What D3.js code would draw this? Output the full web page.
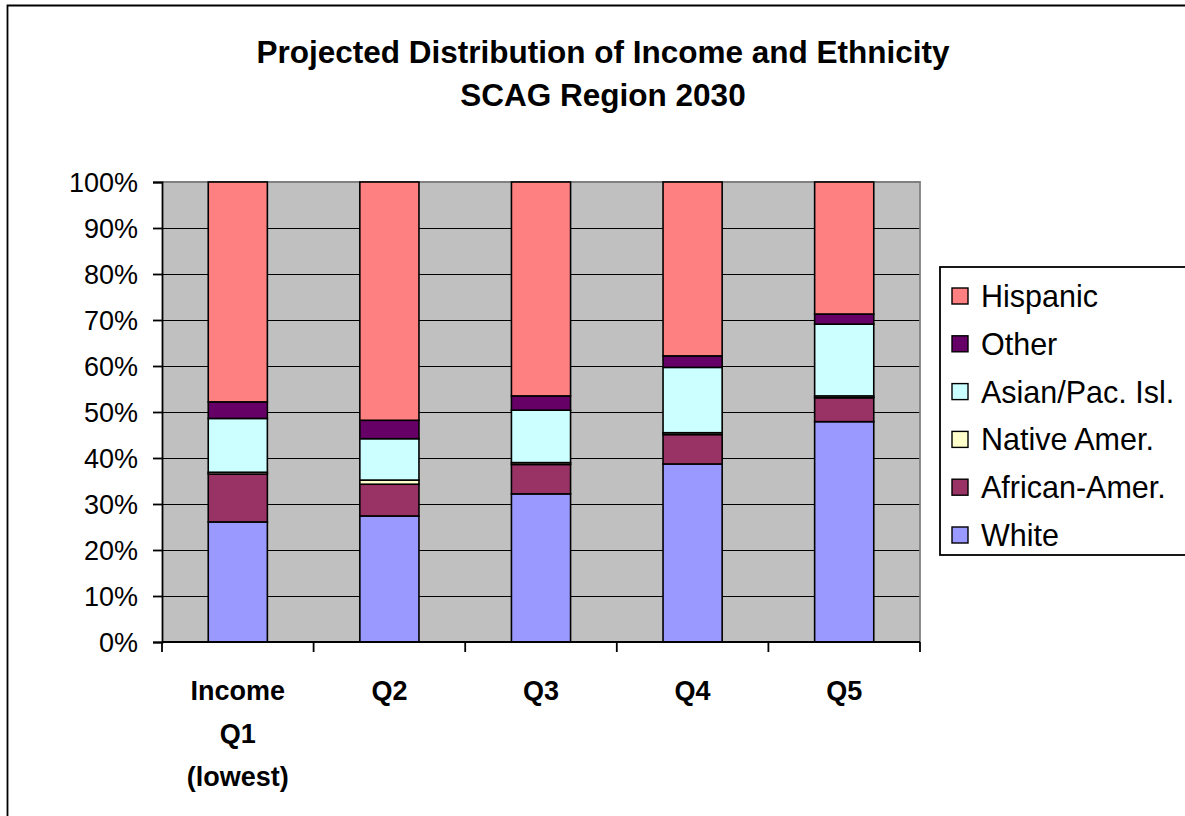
<!DOCTYPE html>
<html>
<head>
<meta charset="utf-8">
<script src="https://cdn.jsdelivr.net/npm/d3@7"></script>
<style>
  html, body { margin: 0; padding: 0; background: #fff; }
  svg { display: block; font-family: "Liberation Sans", Arial, sans-serif; }
</style>
</head>
<body>
<svg id="chart" width="1185" height="816"></svg>
<script>
// Income quintiles (label lines) and ethnic shares in percent, bottom to top
const categories = ["Income Q1 (lowest)", "Q2", "Q3", "Q4", "Q5"];
const categoryLines = [["Income", "Q1", "(lowest)"], ["Q2"], ["Q3"], ["Q4"], ["Q5"]];
const white    = [26.1, 27.4, 32.2, 38.7, 47.9];
const african  = [10.4,  6.9,  6.4,  6.4,  5.2];
const native   = [ 0.4,  0.9,  0.4,  0.4,  0.4];
const asian    = [11.7,  9.0, 11.4, 14.2, 15.6];
const other    = [ 3.6,  4.0,  3.1,  2.5,  2.2];
const hispanic = [47.8, 51.8, 46.5, 37.8, 28.7];
const yTicks = [0, 10, 20, 30, 40, 50, 60, 70, 80, 90, 100];

const seriesNames = ["White", "African-Amer.", "Native Amer.", "Asian/Pac. Isl.", "Other", "Hispanic"];
const seriesValues = [white, african, native, asian, other, hispanic];
const colors = {
  "White": "#9999FF",
  "African-Amer.": "#993366",
  "Native Amer.": "#FFFFCC",
  "Asian/Pac. Isl.": "#CCFFFF",
  "Other": "#660066",
  "Hispanic": "#FF8080"
};

const rows = categories.map((c, i) => {
  const r = { category: c };
  seriesNames.forEach((s, k) => { r[s] = seriesValues[k][i]; });
  return r;
});

const svg = d3.select("#chart");

// outer chart frame
svg.append("path")
  .attr("d", "M7.5,820 V5.5 H1190")
  .attr("fill", "none").attr("stroke", "#000").attr("stroke-width", 1.8);

// title
const title = svg.append("text")
  .attr("x", 603).attr("text-anchor", "middle")
  .attr("font-size", 31.5).attr("font-weight", "bold");
title.append("tspan").attr("x", 603).attr("y", 63).text("Projected Distribution of Income and Ethnicity");
title.append("tspan").attr("x", 603).attr("y", 106).text("SCAG Region 2030");

const plot = { left: 162, right: 920, top: 182, bottom: 642 };

const x = d3.scaleBand().domain(categories).range([plot.left, plot.right]).padding(0);
const y = d3.scaleLinear().domain([0, 100]).range([plot.bottom, plot.top]);
const barW = x.bandwidth() * 0.39;

// plot background
svg.append("rect")
  .attr("x", plot.left).attr("y", plot.top)
  .attr("width", plot.right - plot.left).attr("height", plot.bottom - plot.top)
  .attr("fill", "#C0C0C0");

// gridlines
svg.append("g").selectAll("line")
  .data(yTicks.filter(t => t > 0 && t < 100))
  .join("line")
  .attr("x1", plot.left).attr("x2", plot.right)
  .attr("y1", d => Math.round(y(d)) + 0.5).attr("y2", d => Math.round(y(d)) + 0.5)
  .attr("stroke", "#000").attr("stroke-width", 1);

// top and right border of the plot area
svg.append("path")
  .attr("d", `M${plot.left},${plot.top} H${plot.right} V${plot.bottom}`)
  .attr("fill", "none").attr("stroke", "#808080").attr("stroke-width", 1.8);

// stacked bars
const stack = d3.stack().keys(seriesNames);
const layers = stack(rows);

svg.append("g").selectAll("g")
  .data(layers)
  .join("g")
  .attr("fill", d => colors[d.key])
  .selectAll("rect")
  .data(d => d)
  .join("rect")
  .attr("x", d => x(d.data.category) + (x.bandwidth() - barW) / 2)
  .attr("width", barW)
  .attr("y", d => y(d[1]))
  .attr("height", d => y(d[0]) - y(d[1]))
  .attr("stroke", "#000")
  .attr("stroke-width", 1.6);

// y axis
const yAxis = svg.append("g")
  .attr("transform", `translate(${plot.left},0)`)
  .call(d3.axisLeft(y).tickValues(yTicks).tickFormat(d => d + "%").tickSize(9).tickPadding(15));
yAxis.select(".domain").attr("stroke", "#000").attr("stroke-width", 1.8);
yAxis.selectAll(".tick line").attr("stroke", "#000").attr("stroke-width", 1.8);
yAxis.selectAll(".tick text")
  .attr("font-size", 27).attr("font-family", "Liberation Sans, Arial, sans-serif")
  .attr("fill", "#000").attr("dy", "0.36em");

// x axis: ticks on category boundaries
const xAxisG = svg.append("g");
xAxisG.append("line")
  .attr("x1", plot.left).attr("x2", plot.right)
  .attr("y1", plot.bottom).attr("y2", plot.bottom)
  .attr("stroke", "#000").attr("stroke-width", 1.8);
const boundaries = categories.map(c => x(c)).concat([x(categories[categories.length - 1]) + x.bandwidth()]);
xAxisG.selectAll("line.tick")
  .data(boundaries)
  .join("line")
  .attr("class", "tick")
  .attr("x1", d => d).attr("x2", d => d)
  .attr("y1", plot.bottom).attr("y2", plot.bottom + 10)
  .attr("stroke", "#000").attr("stroke-width", 1.8);

// category labels
categories.forEach((c, i) => {
  const t = xAxisG.append("text")
    .attr("text-anchor", "middle")
    .attr("font-size", 27).attr("font-weight", "bold");
  categoryLines[i].forEach((line, j) => {
    t.append("tspan")
      .attr("x", x(c) + x.bandwidth() / 2)
      .attr("y", 700 + j * 43)
      .text(line);
  });
});

// legend
const legend = svg.append("g");
legend.append("rect")
  .attr("x", 940).attr("y", 267).attr("width", 260).attr("height", 288)
  .attr("fill", "#fff").attr("stroke", "#000").attr("stroke-width", 1.8);
const legendOrder = seriesNames.slice().reverse();
const item = legend.selectAll("g.item")
  .data(legendOrder)
  .join("g")
  .attr("class", "item")
  .attr("transform", (d, i) => `translate(0,${296 + i * 47.8})`);
item.append("rect")
  .attr("x", 952).attr("y", -8).attr("width", 16).attr("height", 16)
  .attr("fill", d => colors[d]).attr("stroke", "#000").attr("stroke-width", 1.4);
item.append("text")
  .attr("x", 981).attr("y", 0).attr("dy", "0.36em")
  .attr("font-size", 30.5)
  .text(d => d);
</script>
</body>
</html>
